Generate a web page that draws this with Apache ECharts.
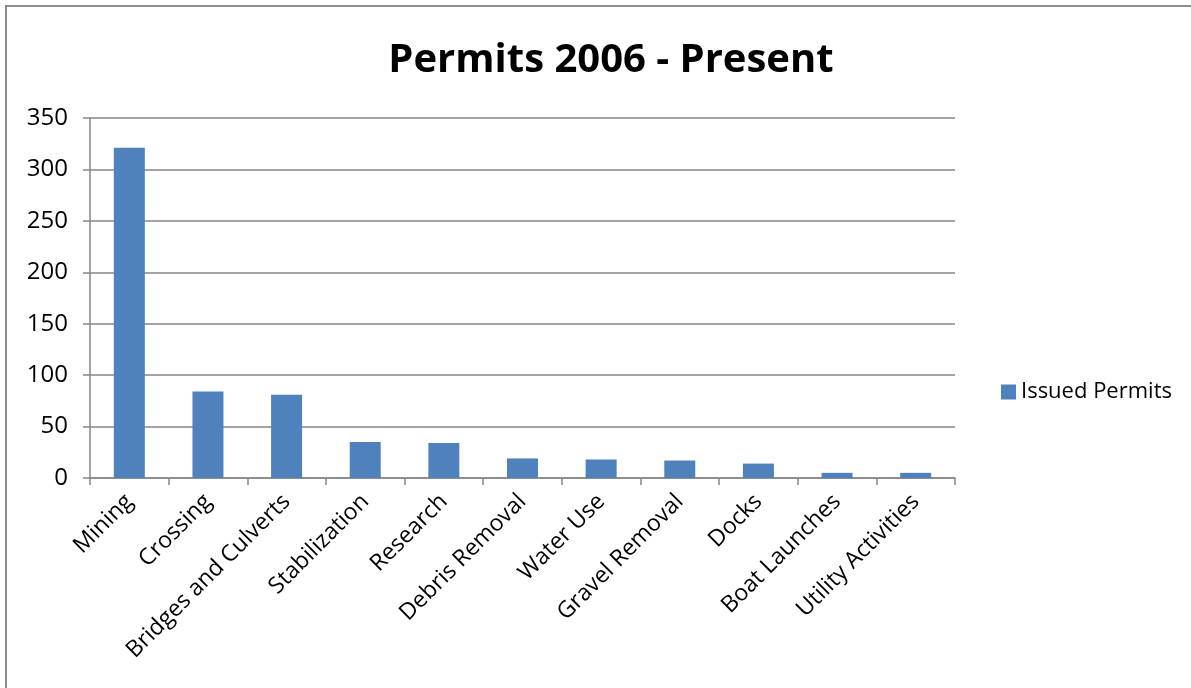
<!DOCTYPE html>
<html>
<head>
<meta charset="utf-8">
<script src="https://cdn.jsdelivr.net/npm/echarts@6/dist/echarts.min.js"></script>
<style>
html,body{margin:0;padding:0;background:#fff;overflow:hidden;}
#frame{position:absolute;left:5px;top:5px;width:1300px;height:800px;border:2px solid #8c8c8c;box-sizing:border-box;}
#chart{position:absolute;left:0;top:0;width:1191px;height:688px;}
</style>
</head>
<body>
<div id="frame"></div>
<div id="chart"></div>
<script>
const titleText = "Permits 2006 - Present";
const categories = ["Mining","Crossing","Bridges and Culverts","Stabilization","Research","Debris Removal","Water Use","Gravel Removal","Docks","Boat Launches","Utility Activities"];
const seriesName = "Issued Permits";
const issuedPermits = [321, 84, 81, 35, 34, 19, 18, 17, 14, 5, 5];
const yTicks = {min: 0, max: 350, interval: 50};

const FONT = "Open Sans";
const chart = echarts.init(document.getElementById('chart'));
chart.setOption({
  animation: false,
  backgroundColor: 'transparent',
  title: {
    text: titleText, left: 606, top: 36, textAlign: 'center',
    textStyle: {fontFamily: FONT, fontWeight: 'bold', fontSize: 40, color: '#000'}
  },
  legend: {
    orient: 'vertical', left: 996, top: 376,
    itemWidth: 15, itemHeight: 15, icon: 'rect', itemGap: 6,
    textStyle: {fontFamily: FONT, fontSize: 22, color: '#000'},
    data: [seriesName]
  },
  grid: {left: 90, right: 236, top: 118, bottom: 210, containLabel: false},
  xAxis: {
    type: 'category', data: categories,
    axisLine: {lineStyle: {color: '#868686', width: 1.5}},
    axisTick: {show: true, length: 7, lineStyle: {color: '#868686', width: 1.5}},
    axisLabel: {rotate: 45, interval: 0, fontFamily: FONT, fontSize: 23, color: '#000', margin: 20}
  },
  yAxis: {
    type: 'value', min: yTicks.min, max: yTicks.max, interval: yTicks.interval,
    axisLine: {show: true, lineStyle: {color: '#868686', width: 1.5}},
    axisTick: {show: true, length: 7, lineStyle: {color: '#868686', width: 1.5}},
    splitLine: {lineStyle: {color: '#868686', width: 1.5}},
    axisLabel: {fontFamily: FONT, fontSize: 24, color: '#000', margin: 22}
  },
  series: [{
    name: seriesName, type: 'bar', data: issuedPermits,
    barWidth: 31,
    itemStyle: {color: '#4F81BD'}
  }]
});
</script>
</body>
</html>
